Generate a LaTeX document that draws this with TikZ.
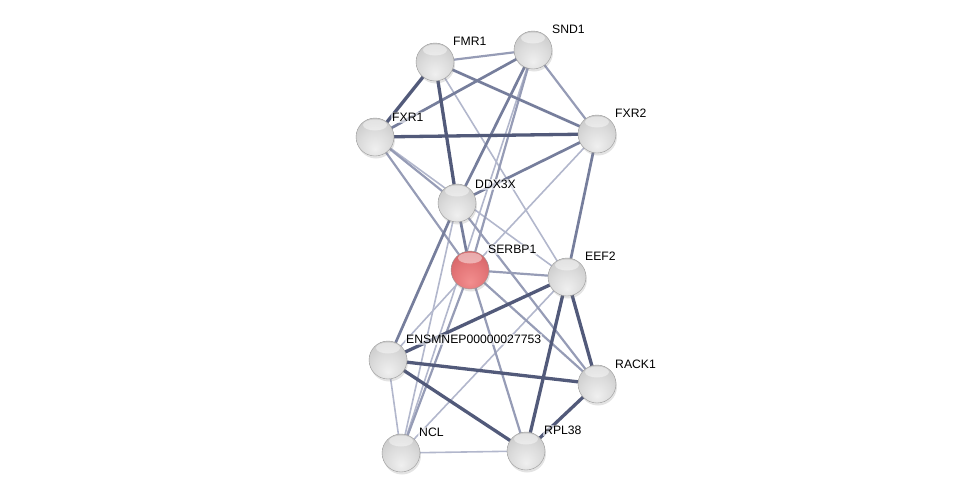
\documentclass[tikz,border=0pt]{standalone}
\usepackage{fontspec}
\setmainfont{Liberation Sans}
\usetikzlibrary{backgrounds,shadows}
\definecolor{edark}{RGB}{82,90,122}
\definecolor{emid}{RGB}{118,126,156}
\definecolor{elite}{RGB}{150,156,182}
\definecolor{efaint}{RGB}{178,183,204}
\pgfdeclareradialshading{spheregray}{\pgfpoint{0bp}{-16bp}}{%
  color(0bp)=(white!94!black);
  color(20bp)=(white!86!black);
  color(40bp)=(white!76!black);
  color(55bp)=(white!62!black);
  color(66bp)=(white!48!black)}
\pgfdeclareradialshading{spherered}{\pgfpoint{0bp}{-16bp}}{%
  color(0bp)=(rgb,255:red,242;green,142;blue,142);
  color(20bp)=(rgb,255:red,228;green,118;blue,120);
  color(40bp)=(rgb,255:red,206;green,92;blue,96);
  color(55bp)=(rgb,255:red,176;green,66;blue,70);
  color(66bp)=(rgb,255:red,140;green,44;blue,48)}
\tikzset{
  prot/.style={circle, minimum size=38pt, inner sep=0pt, shading=spheregray,
    draw=black!40, line width=0.4pt,
    drop shadow={shadow xshift=1pt, shadow yshift=-2.5pt, opacity=0.22},
    path picture={\fill[white, fill opacity=0.45] ([yshift=-7pt]path picture bounding box.north)
      ellipse [x radius=12pt, y radius=5.5pt];}},
  query/.style={prot, shading=spherered},
  lab/.style={anchor=south west, font=\fontsize{12.2}{14}\selectfont, inner sep=1pt,
    fill=white, fill opacity=0.6, text opacity=1},
  e1/.style={draw=edark, line width=3.3pt},
  e2/.style={draw=emid, line width=2.7pt},
  e3/.style={draw=elite, line width=2.2pt},
  e4/.style={draw=efaint, line width=1.6pt}
}
\begin{document}
\begin{tikzpicture}[x=1pt,y=-1pt]
\useasboundingbox (0,0) rectangle (976,498);
\node[prot] (FMR1) at (435,62) {};
\node[prot] (SND1) at (533,50) {};
\node[prot] (FXR1) at (375,137) {};
\node[prot] (FXR2) at (597,134) {};
\node[prot] (DDX3X) at (457,203) {};
\node[query] (SERBP1) at (470,270) {};
\node[prot] (EEF2) at (567,277) {};
\node[prot] (ENS) at (388,360) {};
\node[prot] (RACK1) at (597,384) {};
\node[prot] (NCL) at (401,453) {};
\node[prot] (RPL38) at (526,451) {};
\begin{scope}[on background layer]
\path[e4] (FMR1.center) -- (EEF2.center);
\path[e4] (FXR1.center) -- (EEF2.center);
\path[e4] (FXR2.center) -- (SERBP1.center);
\path[e4] (DDX3X.center) -- (NCL.center);
\path[e4] (SND1.center) -- (NCL.center);
\path[e4] (SERBP1.center) -- (ENS.center);
\path[e4] (EEF2.center) -- (NCL.center);
\path[e4] (ENS.center) -- (NCL.center);
\path[e4] (NCL.center) -- (RPL38.center);
\path[e3] (FMR1.center) -- (SND1.center);
\path[e3] (SND1.center) -- (FXR2.center);
\path[e3] (SND1.center) -- (SERBP1.center);
\path[e3] (FXR1.center) -- (DDX3X.center);
\path[e3] (FXR1.center) -- (SERBP1.center);
\path[e3] (DDX3X.center) -- (RACK1.center);
\path[e3] (SERBP1.center) -- (EEF2.center);
\path[e3] (SERBP1.center) -- (NCL.center);
\path[e3] (SERBP1.center) -- (RPL38.center);
\path[e3] (SERBP1.center) -- (RACK1.center);
\path[e2] (SND1.center) -- (FXR1.center);
\path[e2] (SND1.center) -- (DDX3X.center);
\path[e2] (FMR1.center) -- (FXR2.center);
\path[e2] (FXR2.center) -- (DDX3X.center);
\path[e2] (FXR2.center) -- (EEF2.center);
\path[e2] (DDX3X.center) -- (SERBP1.center);
\path[e2] (DDX3X.center) -- (ENS.center);
\path[e1] (FMR1.center) -- (FXR1.center);
\path[e1] (FMR1.center) -- (DDX3X.center);
\path[e1] (FXR1.center) -- (FXR2.center);
\path[e1] (EEF2.center) -- (ENS.center);
\path[e1] (EEF2.center) -- (RPL38.center);
\path[e1] (EEF2.center) -- (RACK1.center);
\path[e1] (ENS.center) -- (RACK1.center);
\path[e1] (ENS.center) -- (RPL38.center);
\path[e1] (RPL38.center) -- (RACK1.center);
\end{scope}
\node[lab] (tFMR1) at ([xshift=17pt,yshift=15pt]FMR1.center) {FMR1};
\node[lab] (tSND1) at ([xshift=18pt,yshift=15pt]SND1.center) {SND1};
\node[lab] (tFXR1) at ([xshift=16pt,yshift=14pt]FXR1.center) {FXR1};
\node[lab] (tFXR2) at ([xshift=17pt,yshift=15pt]FXR2.center) {FXR2};
\node[lab] (tDDX3X) at ([xshift=17pt,yshift=13pt]DDX3X.center) {DDX3X};
\node[lab] (tSERBP1) at ([xshift=17pt,yshift=15pt]SERBP1.center) {SERBP1};
\node[lab] (tEEF2) at ([xshift=17pt,yshift=15pt]EEF2.center) {EEF2};
\node[lab] (tENS) at ([xshift=17pt,yshift=15pt]ENS.center) {ENSMNEP00000027753};
\node[lab] (tRACK1) at ([xshift=17pt,yshift=14pt]RACK1.center) {RACK1};
\node[lab] (tNCL) at ([xshift=17pt,yshift=15pt]NCL.center) {NCL};
\node[lab] (tRPL38) at ([xshift=17pt,yshift=15pt]RPL38.center) {RPL38};
\end{tikzpicture}
\end{document}
